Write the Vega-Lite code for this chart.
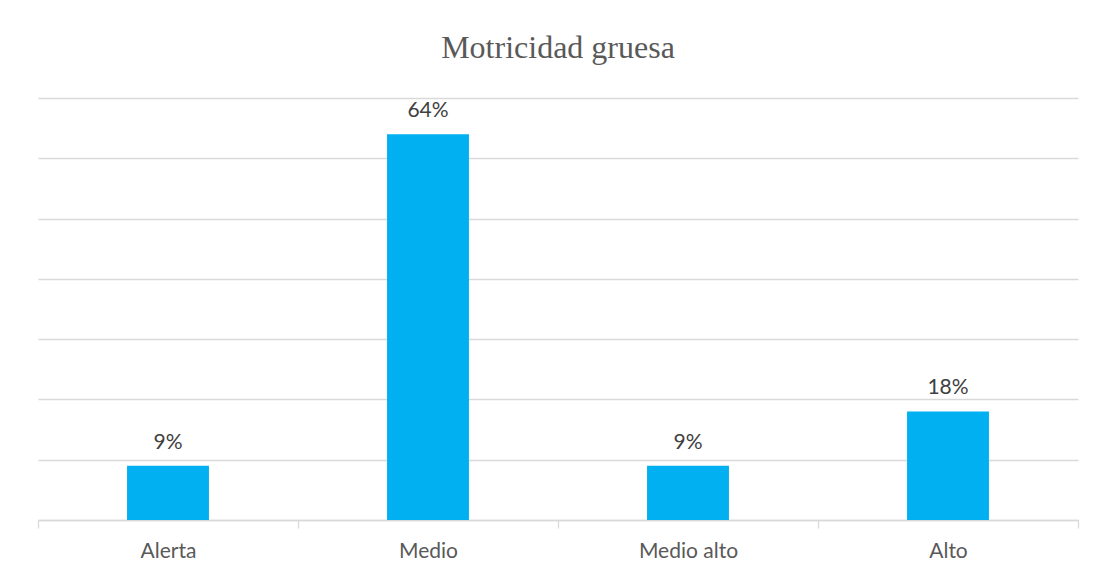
{
  "$schema": "https://vega.github.io/schema/vega-lite/v6.json",
  "autosize": "none",
  "width": 1040,
  "height": 422,
  "padding": {"left": 38, "top": 98, "right": 20, "bottom": 53},
  "background": "white",
  "title": {
    "text": "Motricidad gruesa",
    "font": "Liberation Serif",
    "fontSize": 32,
    "fontWeight": "normal",
    "color": "#595959",
    "anchor": "middle",
    "frame": "group",
    "offset": 33
  },
  "data": {
    "values": [
      {"nivel": "Alerta", "pct": 0.09},
      {"nivel": "Medio", "pct": 0.64},
      {"nivel": "Medio alto", "pct": 0.09},
      {"nivel": "Alto", "pct": 0.18}
    ]
  },
  "encoding": {
    "x": {
      "field": "nivel",
      "type": "nominal",
      "sort": null,
      "scale": {"paddingInner": 0, "paddingOuter": 0},
      "axis": {
        "title": null,
        "labelAngle": 0,
        "labelFont": "Lato",
        "labelFontSize": 21,
        "labelColor": "#595959",
        "labelPadding": 12,
        "tickBand": "extent",
        "tickSize": 8,
        "tickColor": "#d9d9d9",
        "tickWidth": 1.3,
        "domainColor": "#d9d9d9",
        "domainWidth": 1.3,
        "grid": false
      }
    },
    "y": {
      "field": "pct",
      "type": "quantitative",
      "scale": {"domain": [0, 0.7], "nice": false},
      "axis": {
        "title": null,
        "labels": false,
        "ticks": false,
        "domain": false,
        "grid": true,
        "gridColor": "#d9d9d9",
        "gridWidth": 1.3,
        "values": [0, 0.1, 0.2, 0.3, 0.4, 0.5, 0.6, 0.7]
      }
    }
  },
  "layer": [
    {"mark": {"type": "bar", "color": "#00B0F0", "width": {"band": 0.315}}},
    {
      "mark": {
        "type": "text",
        "font": "Lato",
        "fontSize": 21,
        "color": "#404040",
        "baseline": "alphabetic",
        "dy": -17
      },
      "encoding": {"text": {"field": "pct", "type": "quantitative", "format": ".0%"}}
    }
  ],
  "config": {"view": {"stroke": null}}
}
